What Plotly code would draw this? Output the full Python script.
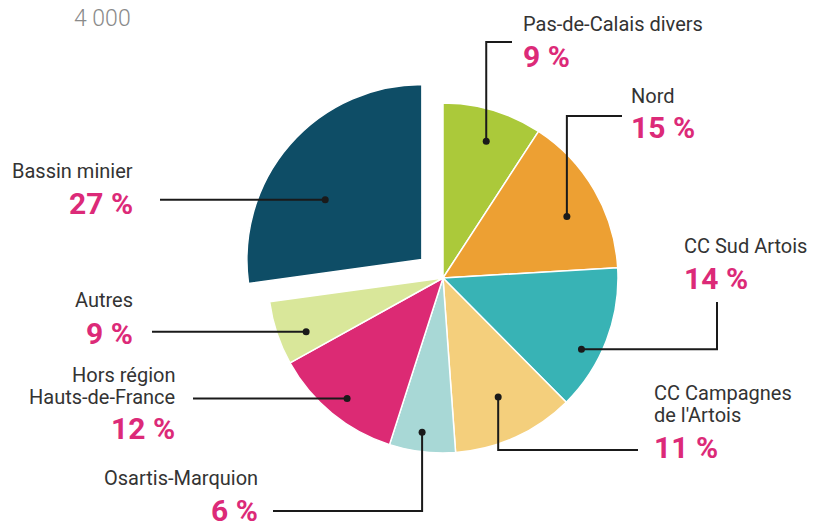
import math
import plotly.graph_objects as go

W, H = 817, 522
# the page puts the figure 8 px in from the top-left corner
OFF = 8

regions = ["Pas-de-Calais divers", "Nord", "CC Sud Artois", "CC Campagnes\nde l'Artois",
           "Osartis-Marquion", "Hors région\nHauts-de-France", "Autres", "Bassin minier"]
# share of the disc as drawn in the picture (printed figures are rounded)
shares = [9.2, 14.9, 13.5, 11.3, 6.1, 12.0, 5.9, 27.2]
pct_text = ["9 %", "15 %", "14 %", "11 %", "6 %", "12 %", "9 %", "27 %"]
colors = ["#abc93a", "#eda033", "#38b3b5", "#f4cf7c",
          "#a8d8d6", "#dc2a74", "#d9e79a", "#0e4d66"]
pulls = [0, 0, 0, 0, 0, 0, 0, 0.16]

# layout of the pie, in pixels
cx, cy, R = 443, 278, 175
half = R * (1 + max(pulls))

# where the black dot sits inside each slice (fraction of the slice angle, fraction of radius)
dot_frac = [0.53, 0.57, 0.63, 0.49, 0.54, 0.48, 0.36, 0.405]
dot_r = [0.82, 0.79, 0.89, 0.75, 0.89, 0.88, 0.84, 0.65]
# connector shape and end point (px)
conn = [("vh", 512, 42), ("vh", 622, 116), ("hv", 717, 302), ("vh", 638, 450),
        ("vh", 273, 511), ("h", 193, None), ("h", 152, None), ("h", 160, None)]
# label block: side, x, y of first name line, y of percentage
lab = [("left", 521, 24, 56), ("left", 629, 96, 128), ("left", 682, 246, 278),
       ("left", 652, 393, 447), ("right", 260, 478, 510), ("right", 177, 375, 428),
       ("right", 135, 300, 333), ("right", 135, 171, 203)]

PINK = "#dc2a78"
TXT = "#333333"
FONT = "Roboto"


def px(x, y):
    return (x - OFF) / W, 1 - (y - OFF) / H


fig = go.Figure()
fig.add_trace(go.Pie(
    values=shares, labels=[r.replace("\n", " ") for r in regions],
    sort=False, direction="clockwise", rotation=0,
    marker=dict(colors=colors, line=dict(color="white", width=1.5)),
    pull=pulls, textinfo="none", hoverinfo="skip", showlegend=False,
    domain=dict(x=[(cx - OFF - half) / W, (cx - OFF + half) / W],
                y=[1 - (cy - OFF + half) / H, 1 - (cy - OFF - half) / H]),
))

shapes = []
annotations = []
total = sum(shares)
cum = 0
for i, v in enumerate(shares):
    a0 = 360 * cum / total
    width = 360 * v / total
    cum += v
    mid = math.radians(a0 + width / 2)
    ang = math.radians(a0 + dot_frac[i] * width)
    shift = pulls[i] * R
    dx = cx + shift * math.sin(mid) + dot_r[i] * R * math.sin(ang)
    dy = cy - shift * math.cos(mid) - dot_r[i] * R * math.cos(ang)

    kind, ex, ey = conn[i]
    if kind == "h":
        pts = [(dx, dy), (ex, dy)]
    elif kind == "vh":
        pts = [(dx, dy), (dx, ey), (ex, ey)]
    else:
        pts = [(dx, dy), (ex, dy), (ex, ey)]
    path = ""
    for j, (x, y) in enumerate(pts):
        X, Y = px(x, y)
        path += ("M" if j == 0 else " L") + f" {X:.5f},{Y:.5f}"
    shapes.append(dict(type="path", path=path, xref="paper", yref="paper",
                       line=dict(color="#1a1a1a", width=2)))
    X0, Y0 = px(dx - 3.5, dy - 3.5)
    X1, Y1 = px(dx + 3.5, dy + 3.5)
    shapes.append(dict(type="circle", xref="paper", yref="paper",
                       x0=X0, x1=X1, y0=Y1, y1=Y0,
                       fillcolor="#1a1a1a", line=dict(width=0)))

    side, lx, ly, py = lab[i]
    for k, line in enumerate(regions[i].split("\n")):
        X, Y = px(lx, ly + 22 * k)
        annotations.append(dict(x=X, y=Y, xref="paper", yref="paper", text=line,
                                showarrow=False, xanchor=side, yanchor="middle",
                                font=dict(family=FONT, size=20, color=TXT)))
    X, Y = px(lx, py)
    annotations.append(dict(x=X, y=Y, xref="paper", yref="paper", text=pct_text[i],
                            showarrow=False, xanchor=side, yanchor="middle",
                            font=dict(family=FONT, size=30, color=PINK, weight="bold")))

X, Y = px(72, 19)
annotations.append(dict(x=X, y=Y, xref="paper", yref="paper", text="4 000",
                        showarrow=False, xanchor="left", yanchor="middle",
                        font=dict(family=FONT, size=23, color="#8a8a8a", weight=300)))

fig.update_layout(
    width=W, height=H,
    margin=dict(l=0, r=0, t=0, b=0),
    paper_bgcolor="white", plot_bgcolor="white",
    shapes=shapes, annotations=annotations,
)

fig.write_html("out.html")
